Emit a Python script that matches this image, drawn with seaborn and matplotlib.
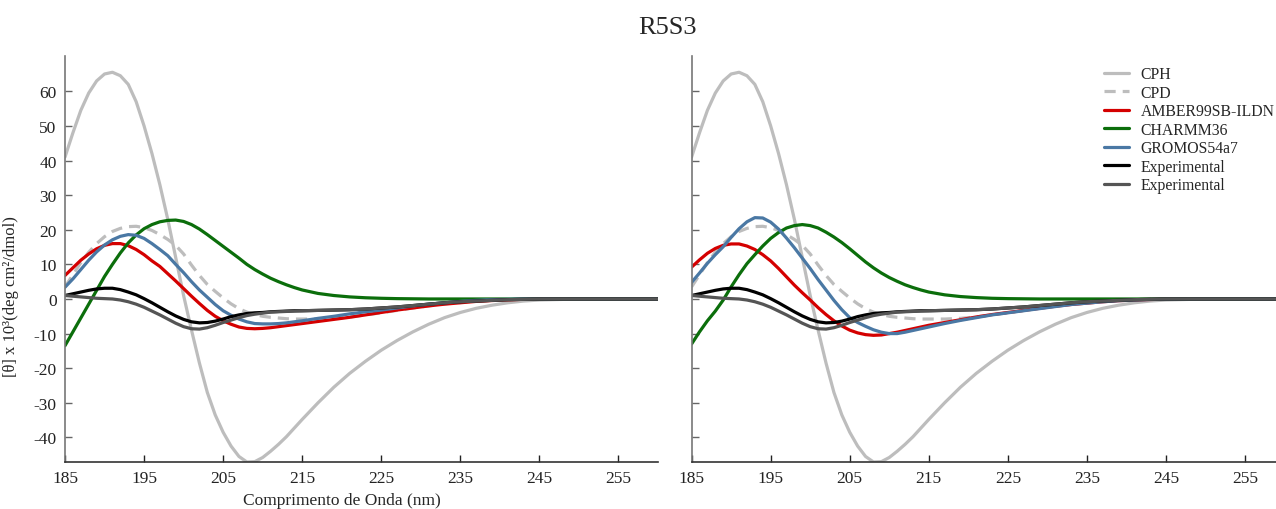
import numpy as np
import pandas as pd
import matplotlib
matplotlib.use("Agg")
import matplotlib.pyplot as plt
import seaborn as sns

# ---------------- data ----------------
wavelength = [185, 186, 187, 188, 189, 190, 191, 192, 193, 194, 195, 196, 197, 198, 199,
              200, 201, 202, 203, 204, 205, 206, 207, 208, 209, 210, 211, 212, 213, 214, 215,
              217, 219, 221, 223, 225, 227, 229, 231, 233, 235, 237, 239, 241, 243, 245,
              250, 255, 260]

cph = [41, 48, 54.5, 59.5, 63, 65, 65.5, 64.5, 62, 57, 50, 42, 33, 23, 12,
       1, -9, -18.5, -27, -33.5, -38.5, -42.5, -45.5, -47.1, -47, -45.8, -44, -42, -39.8, -37.3, -34.8,
       -30, -25.5, -21.5, -18, -14.8, -12, -9.5, -7.3, -5.4, -3.9, -2.7, -1.8, -1.1, -0.6, -0.3,
       0, 0, 0]

cpd = [3.5, 7, 10.5, 13.5, 16, 18, 19.5, 20.4, 20.9, 21, 20.6, 19.8, 18.6, 17.2, 15.5,
       13, 9.8, 6.8, 4.2, 2.2, 0.3, -1.4, -2.8, -3.8, -4.5, -5, -5.3, -5.5, -5.7, -5.8, -5.8,
       -5.8, -5.6, -5.2, -4.6, -4, -3.3, -2.6, -2, -1.4, -1, -0.6, -0.35, -0.15, -0.05, 0,
       0, 0, 0]

exp1 = [1, 1.5, 2, 2.5, 2.9, 3.1, 3.1, 2.7, 2, 1.2, 0.1, -1.1, -2.4, -3.7, -4.9,
        -5.9, -6.6, -6.9, -6.8, -6.4, -5.8, -5.1, -4.6, -4.2, -4, -3.9, -3.7, -3.6, -3.5, -3.4, -3.4,
        -3.3, -3.2, -3.1, -2.9, -2.6, -2.3, -1.9, -1.5, -1.1, -0.8, -0.6, -0.4, -0.2, -0.1, 0,
        0, 0, 0]

exp2 = [1, 0.8, 0.6, 0.4, 0.2, 0.1, 0, -0.3, -0.8, -1.5, -2.4, -3.5, -4.6, -5.8, -7,
        -8, -8.6, -8.7, -8.3, -7.6, -6.8, -6.1, -5.4, -4.8, -4.4, -4.1, -3.8, -3.7, -3.6, -3.5, -3.4,
        -3.3, -3.2, -3.1, -2.9, -2.6, -2.3, -1.9, -1.5, -1.1, -0.8, -0.6, -0.4, -0.2, -0.1, 0,
        0, 0, 0]

# left panel force fields
amber_left = [6.8, 9, 11.2, 13, 14.5, 15.5, 16, 16, 15.4, 14.3, 12.8, 11, 9.4, 7.3, 5.2,
              3, 0.8, -1.3, -3.3, -5, -6.3, -7.3, -8.1, -8.5, -8.6, -8.5, -8.3, -8, -7.7, -7.4, -7.1,
              -6.5, -5.9, -5.3, -4.6, -3.9, -3.2, -2.6, -2, -1.5, -1.1, -0.7, -0.45, -0.25, -0.1, -0.05,
              0, 0, 0]

charmm_left = [-13.5, -9.5, -5.5, -1.5, 2.5, 6.5, 10, 13.3, 16.2, 18.5, 20.3, 21.5, 22.3, 22.7, 22.8,
               22.4, 21.5, 20.2, 18.6, 16.9, 15.2, 13.5, 11.8, 10, 8.5, 7.2, 6, 5, 4.1, 3.3, 2.6,
               1.6, 1, 0.6, 0.35, 0.2, 0.1, 0.05, 0, 0, 0, 0, 0, 0, 0, 0,
               0, 0, 0]

gromos_left = [3.4, 5.8, 8.5, 11.2, 13.6, 15.6, 17.1, 18.1, 18.6, 18.4, 17.5, 16, 14.3, 12.5, 10,
               7.6, 5, 2.6, 0.5, -1.6, -3.4, -4.7, -5.8, -6.6, -7.1, -7.2, -7.2, -7.1, -6.9, -6.6, -6.3,
               -5.6, -5, -4.3, -3.7, -3.2, -2.6, -2, -1.5, -1.1, -0.7, -0.4, -0.2, -0.1, 0, 0,
               0, 0, 0]

# right panel force fields
amber_right = [9.2, 11.3, 13.2, 14.6, 15.5, 15.9, 15.9, 15.3, 14.3, 12.8, 11, 8.8, 6.4, 4, 1.8,
               -0.3, -2.5, -4.5, -6.3, -7.8, -9, -9.8, -10.3, -10.5, -10.4, -10, -9.6, -9.1, -8.6, -8.1, -7.6,
               -6.8, -6, -5.2, -4.5, -3.9, -3.3, -2.7, -2.1, -1.6, -1.2, -0.8, -0.5, -0.3, -0.15, -0.05,
               0, 0, 0]

charmm_right = [-13, -9.5, -6.3, -3.5, -0.3, 3.5, 7, 10.2, 12.8, 15.3, 17.5, 19.2, 20.5, 21.2, 21.5,
                21.2, 20.5, 19.3, 17.9, 16.3, 14.5, 12.6, 10.7, 9, 7.5, 6.2, 5.1, 4.1, 3.3, 2.6, 2,
                1.2, 0.7, 0.4, 0.2, 0.1, 0.05, 0, 0, 0, 0, 0, 0, 0, 0, 0,
                0, 0, 0]

gromos_right = [4.8, 7.5, 10.3, 12.8, 15.1, 17.8, 20.3, 22.3, 23.5, 23.4, 22.2, 20.2, 17.6, 14.8, 11.8,
                8.8, 5.6, 2.6, -0.4, -3.1, -5.4, -6.8, -7.9, -8.9, -9.6, -10, -10, -9.6, -9.1, -8.6, -8.1,
                -7.1, -6.2, -5.4, -4.6, -4, -3.4, -2.8, -2.2, -1.6, -1.2, -0.8, -0.5, -0.3, -0.15, -0.05,
                0, 0, 0]

labels = ["CPH", "CPD", "AMBER99SB-ILDN", "CHARMM36", "GROMOS54a7", "Experimental", "Experimental"]
colors = ["#bdbdbd", "#bdbdbd", "#d40000", "#0b6e0b", "#4a78a4", "#000000", "#555555"]
styles = ["-", "--", "-", "-", "-", "-", "-"]

x_ticks = [185, 195, 205, 215, 225, 235, 245, 255]
y_ticks = [-40, -30, -20, -10, 0, 10, 20, 30, 40, 50, 60]

title = "R5S3"
xlabel = "Comprimento de Onda (nm)"
ylabel = "[θ] x 10³(deg cm²/dmol)"

# ---------------- style ----------------
sns.set_style("ticks")
plt.rcParams["font.family"] = ["Liberation Serif", "DejaVu Serif"]
plt.rcParams["axes.unicode_minus"] = False

fig = plt.figure(figsize=(12.76, 5.10), dpi=100)
W, H = 1276, 510
ax_l = fig.add_axes([65 / W, 1 - 463 / H, 593 / W, 406 / H])
ax_r = fig.add_axes([691.6 / W, 1 - 463 / H, 593 / W, 406 / H])

panels = [
    (ax_l, [cph, cpd, amber_left, charmm_left, gromos_left, exp1, exp2]),
    (ax_r, [cph, cpd, amber_right, charmm_right, gromos_right, exp1, exp2]),
]

for ax, series in panels:
    for lab, col, ls, vals in zip(labels, colors, styles, series):
        df = pd.DataFrame({"wl": wavelength, "theta": vals})
        line_kw = dict(color=col, linewidth=2.3, label=lab)
        if ls == "--":
            line_kw["dashes"] = (3.5, 2.2)
        sns.lineplot(data=df, x="wl", y="theta", ax=ax, legend=False, **line_kw)
    ax.set_xlim(185, 260)
    ax.set_ylim(-47.1, 70.2)
    ax.set_xticks(x_ticks)
    ax.set_yticks(y_ticks)
    ax.tick_params(direction="in", length=5, width=1, labelsize=12.5, colors="#222222",
                   pad=6)
    ax.tick_params(axis="y", colors="#666666", labelcolor="#222222")
    for s in ["top", "right"]:
        ax.spines[s].set_visible(False)
    ax.spines["left"].set_color("#777777")
    ax.spines["left"].set_linewidth(1.2)
    ax.spines["bottom"].set_color("#333333")
    ax.spines["bottom"].set_linewidth(1.2)
    ax.set_xlabel("")
    ax.set_ylabel("")

ax_l.set_xlabel(xlabel, fontsize=12.5)
ax_l.xaxis.set_label_coords((220 - 185) / 75, -0.075)
ax_l.set_ylabel(ylabel, fontsize=12)
ax_l.yaxis.set_label_coords(-0.078, 0.41)
ax_r.tick_params(axis="y", labelleft=False)

handles, labs = ax_r.get_legend_handles_labels()
ax_r.legend(handles, labs, loc="upper left", bbox_to_anchor=(1098 / W, 1 - 61 / H),
            bbox_transform=fig.transFigure, frameon=False, fontsize=11.3,
            handlelength=1.6, handletextpad=0.7, labelspacing=0.16, borderaxespad=0)

fig.text(667 / W, 1 - 28 / H, title, ha="center", va="center", fontsize=19)

fig.savefig("out.png", dpi=100)
